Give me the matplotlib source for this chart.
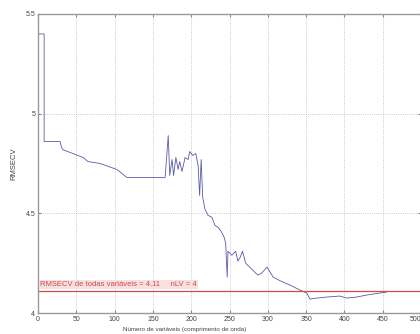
import numpy as np
import matplotlib
matplotlib.use("Agg")
import matplotlib.pyplot as plt

# number of variables vs RMSECV
n_vars = [1, 8, 8, 29, 30, 32, 59, 65, 81, 103, 116, 166,
          170, 172, 175, 177, 180, 183, 185, 188, 192, 196, 198, 202, 206,
          209, 211, 213, 215, 218, 222, 227, 231, 235, 239, 243, 245, 247,
          248, 253, 258, 261, 264, 267, 271, 279, 287, 292, 299, 307, 317,
          329, 342, 351, 355, 364, 377, 394, 403, 416, 429, 446, 455]
rmsecv = [5.40, 5.40, 4.86, 4.86, 4.84, 4.82, 4.78, 4.76, 4.75, 4.72, 4.68, 4.68,
          4.89, 4.69, 4.77, 4.69, 4.78, 4.72, 4.76, 4.71, 4.78, 4.77, 4.81, 4.79, 4.80,
          4.74, 4.59, 4.77, 4.58, 4.52, 4.49, 4.48, 4.44, 4.43, 4.41, 4.38, 4.35, 4.18,
          4.31, 4.29, 4.31, 4.26, 4.28, 4.31, 4.25, 4.22, 4.19, 4.20, 4.23, 4.18, 4.16,
          4.14, 4.115, 4.10, 4.07, 4.075, 4.08, 4.085, 4.075, 4.08, 4.09, 4.10, 4.105]

rmse_all = 4.11
nlv = 4
x_ticks = [0, 50, 100, 150, 200, 250, 300, 350, 400, 450, 500]
y_ticks = [4, 4.5, 5, 5.5]

plt.rcParams['font.family'] = ['Liberation Sans', 'DejaVu Sans']
fig = plt.figure(figsize=(4.2, 3.34), dpi=100)
ax = fig.add_axes([38 / 420, 1 - 313 / 334, 383 / 420, 299 / 334])

ax.plot(n_vars, rmsecv, color='#5a5aa8', lw=0.6)
ax.axhline(rmse_all, color='#d24a4a', lw=0.9)
ax.text(3, 4.125, 'RMSECV de todas variáveis = ' + str(rmse_all) + '     nLV = ' + str(nlv),
        color='#d04848', fontsize=5.5, va='bottom', ha='left',
        bbox=dict(facecolor='#f9e0e0', edgecolor='none', pad=0.6))

ax.set_xlim(0, 500)
ax.set_ylim(4, 5.5)
ax.set_xticks(x_ticks)
ax.set_yticks(y_ticks)
ax.set_yticklabels(['4', '4.5', '5', '5.5'])
ax.grid(True, linestyle=':', color='#b8b8b8', lw=0.6)
ax.tick_params(labelsize=5, length=2, color='#888888', labelcolor='#444444', pad=2,
               direction='in', top=True, right=True)
for s in ax.spines.values():
    s.set_color('#999999')
    s.set_linewidth(1.0)

# last tick label sits at the figure edge
ax.get_xticklabels()[-1].set_horizontalalignment('right')

ax.set_ylabel('RMSECV', fontsize=5.5, color='#444444', labelpad=6)
fig.text(185 / 420, 2 / 334, 'Número de variáveis (comprimento de onda)',
         fontsize=4.5, color='#444444', ha='center', va='bottom')

fig.savefig('out.png', dpi=100)
